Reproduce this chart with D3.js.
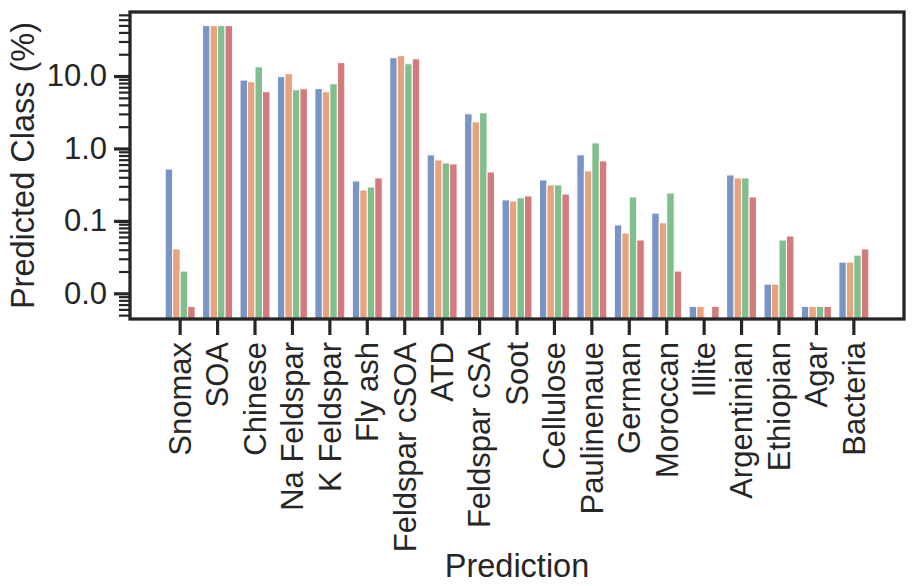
<!DOCTYPE html>
<html>
<head>
<meta charset="utf-8">
<script src="https://cdn.jsdelivr.net/npm/d3@7"></script>
<style>
  html, body { margin: 0; padding: 0; background: #fff; }
  svg { display: block; font-family: "Liberation Sans", Arial, sans-serif; }
</style>
</head>
<body>
<div id="chart"></div>
<script>
/**
 * Grouped bar chart, log y axis — predicted class share per particle type.
 * Four runs per category, drawn side by side (seaborn-style hue grouping).
 */

// ── Data ────────────────────────────────────────────────────────────────
const categories = [
  "Snomax", "SOA", "Chinese", "Na Feldspar", "K Feldspar", "Fly ash",
  "Feldspar cSOA", "ATD", "Feldspar cSA", "Soot", "Cellulose", "Paulinenaue",
  "German", "Moroccan", "Illite", "Argentinian", "Ethiopian", "Agar", "Bacteria",
];

const seriesNames = ["run1", "run2", "run3", "run4"];

// values in percent, null = no bar (zero on a log axis)
const run1 = [0.52, 49.7, 8.8, 9.8, 6.7, 0.356, 17.9, 0.816, 3.01, 0.195, 0.368, 0.816,
              0.088, 0.128, 0.0066, 0.431, 0.0134, 0.0066, 0.027];
const run2 = [0.041, 49.7, 8.34, 10.8, 6.07, 0.267, 19.1, 0.695, 2.33, 0.188, 0.314, 0.49,
              0.068, 0.094, 0.0066, 0.392, 0.0134, 0.0066, 0.027];
const run3 = [0.0203, 49.7, 13.4, 6.46, 7.83, 0.294, 14.8, 0.632, 3.11, 0.208, 0.314, 1.195,
              0.214, 0.243, null, 0.392, 0.0545, 0.0066, 0.0337];
const run4 = [0.0066, 49.7, 6.07, 6.67, 15.3, 0.392, 17.3, 0.612, 0.474, 0.221, 0.235, 0.674,
              0.0545, 0.0203, 0.0066, 0.214, 0.0618, 0.0066, 0.041];

const majorTicks = [0.01, 0.1, 1, 10];
const xTitle = "Prediction";
const yTitle = "Predicted Class (%)";

// ── Layout / style ──────────────────────────────────────────────────────
const W = 916, H = 586;
const plot = { left: 130, right: 904, top: 12, bottom: 319 };
const colors = ["#4C72B0", "#DD8452", "#55A868", "#C44E52"];   // seaborn "deep"
const ink = "#262626";
const tickFont = 31, titleFont = 32.5;

const svg = d3.select("#chart")
  .append("svg")
  .attr("width", W)
  .attr("height", H);

// ── Scales ──────────────────────────────────────────────────────────────
const x = d3.scaleBand()
  .domain(categories)
  .range([plot.left, plot.right])
  .paddingInner(0.2)
  .paddingOuter(0.94);

const xHue = d3.scaleBand()
  .domain(seriesNames)
  .range([0, x.bandwidth()]);

const y = d3.scaleLog()
  .domain([0.00442, 76.6])
  .range([plot.bottom, plot.top]);

// ── Bars ────────────────────────────────────────────────────────────────
const allRuns = [run1, run2, run3, run4];
const rows = [];
allRuns.forEach((vals, s) => {
  vals.forEach((v, i) => {
    if (v != null) rows.push({ cat: categories[i], series: seriesNames[s], s, v });
  });
});

svg.append("g")
  .selectAll("rect")
  .data(rows)
  .join("rect")
    .attr("x",      d => x(d.cat) + xHue(d.series))
    .attr("y",      d => y(d.v))
    .attr("width",  xHue.bandwidth())
    .attr("height", d => plot.bottom - y(d.v))
    .attr("fill",   d => colors[d.s])
    .attr("fill-opacity", 0.75)
    .attr("stroke", "#fff")
    .attr("stroke-width", 1);

// ── Axes ────────────────────────────────────────────────────────────────
const minorTicks = [];
for (let e = -3; e <= 1; e++) {
  for (let m = 2; m <= 9; m++) {
    const v = m * Math.pow(10, e);
    if (v >= y.domain()[0] && v <= y.domain()[1]) minorTicks.push(v);
  }
}

const yMinor = svg.append("g")
  .attr("transform", `translate(${plot.left},0)`)
  .call(d3.axisLeft(y).tickValues(minorTicks).tickSize(11).tickFormat(""));
yMinor.select(".domain").remove();
yMinor.selectAll("line").attr("stroke", ink).attr("stroke-width", 2.2);

const yMajor = svg.append("g")
  .attr("transform", `translate(${plot.left},0)`)
  .call(d3.axisLeft(y).tickValues(majorTicks).tickSize(16).tickPadding(7)
        .tickFormat(d3.format(".1f")));
yMajor.select(".domain").remove();
yMajor.selectAll("line").attr("stroke", ink).attr("stroke-width", 3.2);
yMajor.selectAll("text")
  .attr("fill", ink)
  .attr("font-size", tickFont)
  .attr("font-family", "Liberation Sans, Arial, sans-serif");

const xAxis = svg.append("g")
  .attr("transform", `translate(0,${plot.bottom})`)
  .call(d3.axisBottom(x).tickSize(16).tickPadding(0));
xAxis.select(".domain").remove();
xAxis.selectAll("line").attr("stroke", ink).attr("stroke-width", 3.2);
xAxis.selectAll("text")
  .attr("fill", ink)
  .attr("font-size", tickFont)
  .attr("font-family", "Liberation Sans, Arial, sans-serif")
  .attr("text-anchor", "end")
  .attr("dy", "0.35em")
  .attr("transform", "translate(0,23) rotate(-90)")
  .attr("x", 0)
  .attr("y", 0);

// frame (all four spines)
svg.append("rect")
  .attr("x",      plot.left)
  .attr("y",      plot.top)
  .attr("width",  plot.right - plot.left)
  .attr("height", plot.bottom - plot.top)
  .attr("fill",   "none")
  .attr("stroke", ink)
  .attr("stroke-width", 3.3);

// ── Titles ──────────────────────────────────────────────────────────────
svg.append("text")
  .attr("x", (plot.left + plot.right) / 2)
  .attr("y", 577)
  .attr("text-anchor", "middle")
  .attr("fill", ink)
  .attr("font-size", titleFont)
  .text(xTitle);

svg.append("text")
  .attr("transform", `translate(34,${(plot.top + plot.bottom) / 2}) rotate(-90)`)
  .attr("text-anchor", "middle")
  .attr("fill", ink)
  .attr("font-size", titleFont)
  .text(yTitle);
</script>
</body>
</html>
